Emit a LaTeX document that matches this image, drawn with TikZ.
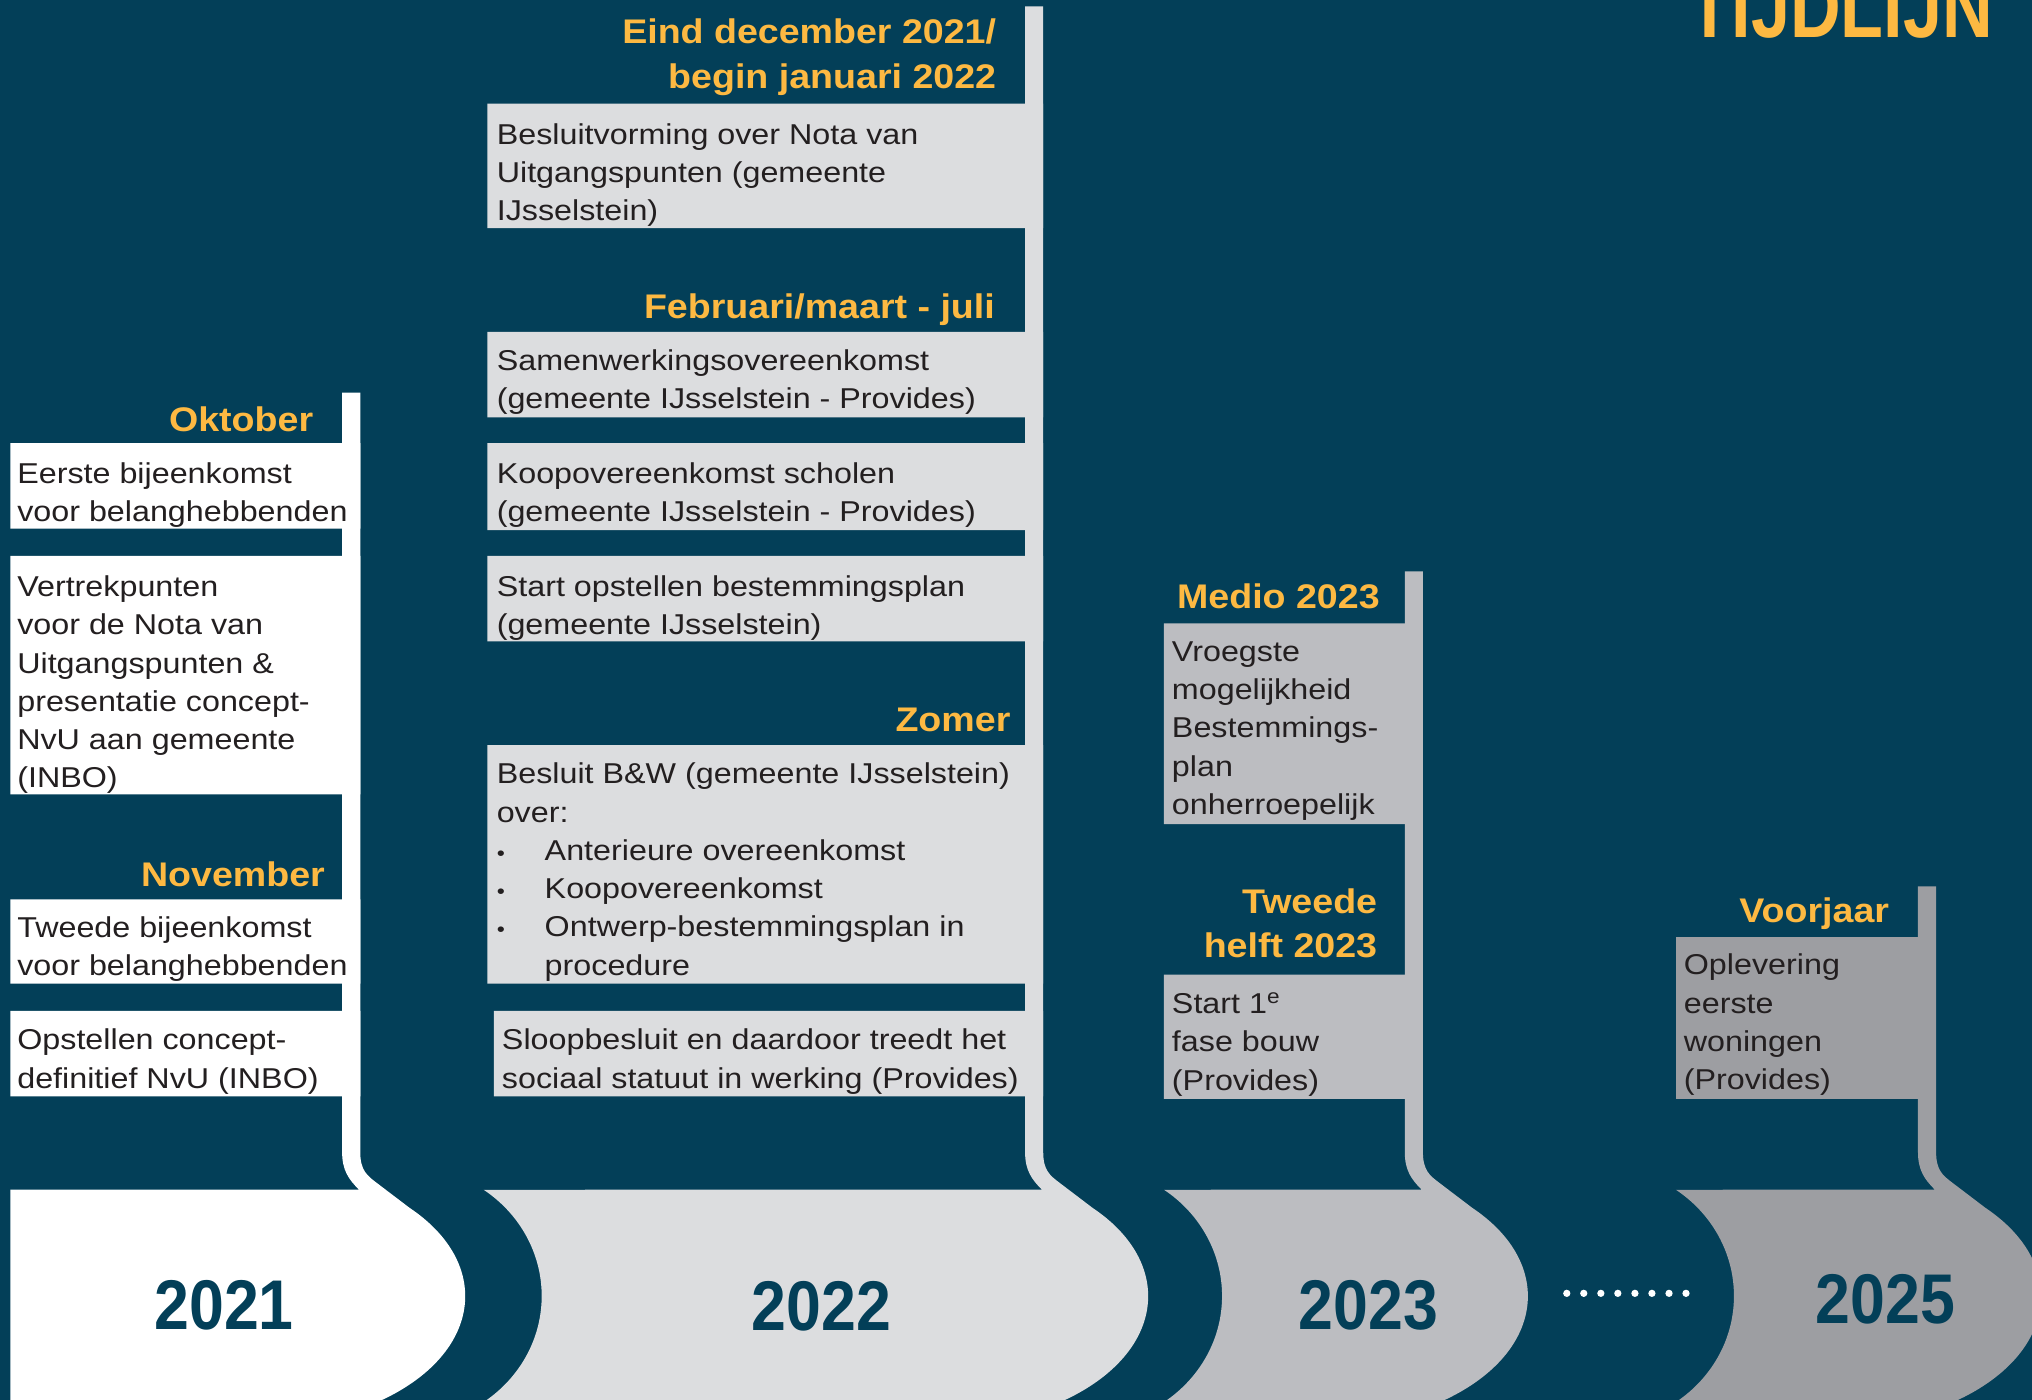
\documentclass[tikz,border=0pt]{standalone}
\usepackage{fontspec}
\setmainfont[FakeStretch=1.125]{Liberation Sans}
\newfontfamily\kopfont[FakeStretch=1.1]{Liberation Sans}
\newfontfamily\jaarfont[FakeStretch=0.89]{Liberation Sans}
\newfontfamily\titelfont[FakeStretch=0.8]{Liberation Sans}
\definecolor{tlteal}{RGB}{3,63,88}
\definecolor{tlyellow}{RGB}{253,185,66}
\definecolor{tlgreyA}{RGB}{220,221,223}
\definecolor{tlgreyB}{RGB}{188,189,193}
\definecolor{tlgreyC}{RGB}{157,158,162}
\definecolor{txtdark}{RGB}{35,31,32}
\tikzset{
  bodytxt/.style={font=\fontsize{12.6}{16.8}\selectfont, text=txtdark, inner sep=0pt, align=left, anchor=base west},
  headtxt/.style={font=\kopfont\bfseries\fontsize{15}{19.7}\selectfont, text=tlyellow, inner sep=0pt, align=right, anchor=base east},
  yeartxt/.style={font=\jaarfont\bfseries\fontsize{30.9}{31}\selectfont, text=tlteal, inner sep=0pt, anchor=base}
}

\begin{document}
\begin{tikzpicture}[x=0.2mm,y=-0.2mm]
  \useasboundingbox (0,0) rectangle (1568,1080);
  \clip (0,0) rectangle (1568,1080);
  \fill[tlteal] (0,0) rectangle (1568,1080);

  \fill[white] (8,1100) -- (8,918) -- (277,918) .. controls (269,910) and (264,903) .. (264,889) -- (264,303) -- (278,303) -- (278,889) .. controls (278,903) and (283,907) .. (291,913) -- (316,932) arc[start angle=-43, end angle=90, x radius=160, y radius=100] -- cycle;
  \fill[tlgreyA] (313,1100) arc[start angle=90, end angle=-55, x radius=105, y radius=100] -- (804,918) .. controls (796,910) and (791,903) .. (791,889) -- (791,5) -- (805,5) -- (805,889) .. controls (805,903) and (810,907) .. (818,913) -- (843,932) arc[start angle=-43, end angle=90, x radius=160, y radius=100] -- cycle;
  \fill[tlgreyB] (838,1100) arc[start angle=90, end angle=-55, x radius=105, y radius=100] -- (1097,918) .. controls (1089,910) and (1084,903) .. (1084,889) -- (1084,441) -- (1098,441) -- (1098,889) .. controls (1098,903) and (1103,907) .. (1111,913) -- (1136,932) arc[start angle=-43, end angle=90, x radius=160, y radius=100] -- cycle;
  \fill[tlgreyC] (1233,1100) arc[start angle=90, end angle=-55, x radius=105, y radius=100] -- (1493,918) .. controls (1485,910) and (1480,903) .. (1480,889) -- (1480,684) -- (1494,684) -- (1494,889) .. controls (1494,903) and (1499,907) .. (1507,913) -- (1532,932) arc[start angle=-43, end angle=90, x radius=160, y radius=100] -- cycle;

  \fill[white] (8,342) rectangle (278,408) (8,429) rectangle (278,613) (8,694) rectangle (278,759) (8,780) rectangle (278,846);
  \fill[tlgreyA] (376,80) rectangle (805,176) (376,256) rectangle (805,322) (376,342) rectangle (805,409) (376,429) rectangle (805,495) (376,575) rectangle (805,759) (381,780) rectangle (805,846);
  \fill[tlgreyB] (898,481) rectangle (1098,636) (898,752) rectangle (1098,848);
  \fill[tlgreyC] (1293,723) rectangle (1494,848);

  \node[headtxt] (oktober) at (242,333) {Oktober};
  \node[bodytxt] (okt1) at (13,402.6) {Eerste bijeenkomst\\voor belanghebbenden};
  \node[bodytxt] (okt2) at (13,608) {Vertrekpunten\\voor de Nota van\\Uitgangspunten \&\\presentatie concept-\\NvU aan gemeente\\(INBO)};
  \node[headtxt] (november) at (251,684) {November};
  \node[bodytxt] (nov1) at (13,752.6) {Tweede bijeenkomst\\voor belanghebbenden};
  \node[bodytxt] (nov2) at (13,839.6) {Opstellen concept-\\definitief NvU (INBO)};

  \node[headtxt] (eind) at (769,68.2) {Eind december 2021/\\begin januari 2022};
  \node[bodytxt] (eind1) at (383,170.2) {Besluitvorming over Nota van\\Uitgangspunten (gemeente\\IJsselstein)};
  \node[headtxt] (februari) at (768,245.5) {Februari/maart - juli};
  \node[bodytxt] (feb1) at (383,315.6) {Samenwerkingsovereenkomst\\(gemeente IJsselstein - Provides)};
  \node[bodytxt] (feb2) at (383,402.6) {Koopovereenkomst scholen\\(gemeente IJsselstein - Provides)};
  \node[bodytxt] (feb3) at (383,489.6) {Start opstellen bestemmingsplan\\(gemeente IJsselstein)};
  \node[headtxt] (zomer) at (780,564.5) {Zomer};
  \node[bodytxt] (zomer1) at (383,752.5) {Besluit B\&W (gemeente IJsselstein)\\over:\\\makebox[7.4mm][l]{{\fontsize{9}{9}\selectfont\textbullet}}Anterieure overeenkomst\\\makebox[7.4mm][l]{{\fontsize{9}{9}\selectfont\textbullet}}Koopovereenkomst\\\makebox[7.4mm][l]{{\fontsize{9}{9}\selectfont\textbullet}}Ontwerp-bestemmingsplan in\\\hspace*{7.4mm}procedure};
  \node[bodytxt] (zomer2) at (387,839.6) {Sloopbesluit en daardoor treedt het\\sociaal statuut in werking (Provides)};

  \node[headtxt] (medio) at (1065,469.5) {Medio 2023};
  \node[bodytxt] (medio1) at (904,628.4) {Vroegste\\mogelijkheid\\Bestemmings-\\plan\\onherroepelijk};
  \node[headtxt] (tweede) at (1063,739.2) {Tweede\\helft 2023};
  \node[bodytxt] (tweede1) at (904,841.2) {Start 1\textsuperscript{e}\\fase bouw\\(Provides)};

  \node[headtxt] (voorjaar) at (1458,712) {Voorjaar};
  \node[bodytxt] (voorjaar1) at (1299,840.8) {Oplevering\\eerste\\woningen\\(Provides)};

  \node[yeartxt] (y2021) at (173,1026) {2021};
  \node[yeartxt] (y2022) at (634,1027) {2022};
  \node[yeartxt] (y2023) at (1056,1026) {2023};
  \node[yeartxt] (y2025) at (1455,1021) {2025};
  \fill[white] (1209,998) circle[radius=2.8] (1222.1,998) circle[radius=2.8] (1235.3,998) circle[radius=2.8] (1248.4,998) circle[radius=2.8] (1261.6,998) circle[radius=2.8] (1274.7,998) circle[radius=2.8] (1287.9,998) circle[radius=2.8] (1301,998) circle[radius=2.8];

  \node[font=\titelfont\bfseries\fontsize{38.5}{40}\selectfont, text=tlyellow, inner sep=0pt, anchor=base east] (titel) at (1538,29) {TIJDLIJN};
\end{tikzpicture}
\end{document}
